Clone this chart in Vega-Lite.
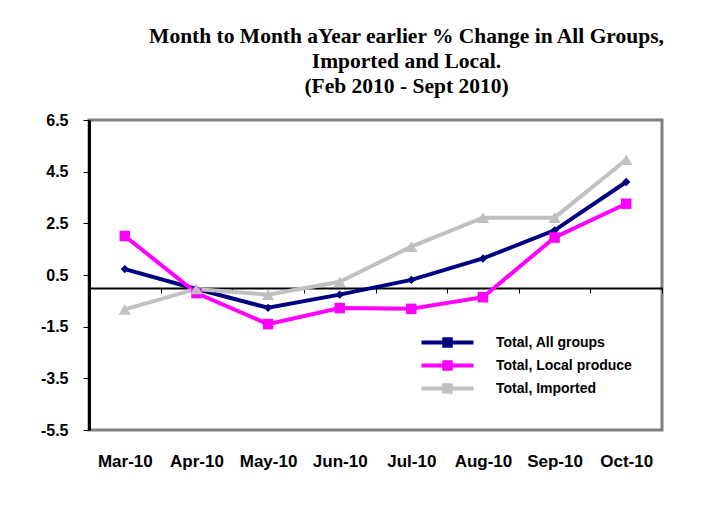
{
  "$schema": "https://vega.github.io/schema/vega-lite/v6.json",
  "width": 573,
  "height": 310,
  "autosize": "none",
  "padding": {"left": 89, "top": 120, "right": 42, "bottom": 84},
  "background": "white",
  "title": {
    "text": ["Month to Month aYear earlier % Change in All Groups,", "Imported and Local.", "(Feb 2010 - Sept 2010)"],
    "anchor": "middle",
    "dx": 31,
    "font": "Liberation Serif",
    "fontSize": 21.5,
    "fontWeight": "bold",
    "lineHeight": 25,
    "color": "black",
    "offset": 15
  },
  "config": {
    "view": {"stroke": "#808080", "strokeWidth": 3},
    "axis": {"labelFont": "Arial", "labelFontWeight": "bold", "labelColor": "black", "grid": false, "title": null}
  },
  "resolve": {"legend": {"color": "independent", "shape": "independent", "size": "independent"}},
  "data": {
    "values": [
      {"series": "Total, All groups", "month": "Mar-10", "value": 0.73},
      {"series": "Total, All groups", "month": "Apr-10", "value": -0.04},
      {"series": "Total, All groups", "month": "May-10", "value": -0.77},
      {"series": "Total, All groups", "month": "Jun-10", "value": -0.26},
      {"series": "Total, All groups", "month": "Jul-10", "value": 0.31},
      {"series": "Total, All groups", "month": "Aug-10", "value": 1.14},
      {"series": "Total, All groups", "month": "Sep-10", "value": 2.23},
      {"series": "Total, All groups", "month": "Oct-10", "value": 4.1},
      {"series": "Total, Local produce", "month": "Mar-10", "value": 2.01},
      {"series": "Total, Local produce", "month": "Apr-10", "value": -0.2},
      {"series": "Total, Local produce", "month": "May-10", "value": -1.4},
      {"series": "Total, Local produce", "month": "Jun-10", "value": -0.78},
      {"series": "Total, Local produce", "month": "Jul-10", "value": -0.81},
      {"series": "Total, Local produce", "month": "Aug-10", "value": -0.36},
      {"series": "Total, Local produce", "month": "Sep-10", "value": 1.95},
      {"series": "Total, Local produce", "month": "Oct-10", "value": 3.26},
      {"series": "Total, Imported", "month": "Mar-10", "value": -0.83},
      {"series": "Total, Imported", "month": "Apr-10", "value": -0.04},
      {"series": "Total, Imported", "month": "May-10", "value": -0.26},
      {"series": "Total, Imported", "month": "Jun-10", "value": 0.24},
      {"series": "Total, Imported", "month": "Jul-10", "value": 1.6},
      {"series": "Total, Imported", "month": "Aug-10", "value": 2.72},
      {"series": "Total, Imported", "month": "Sep-10", "value": 2.72},
      {"series": "Total, Imported", "month": "Oct-10", "value": 4.96}
    ]
  },
  "encoding": {
    "x": {
      "field": "month", "type": "ordinal",
      "sort": ["Mar-10", "Apr-10", "May-10", "Jun-10", "Jul-10", "Aug-10", "Sep-10", "Oct-10"],
      "scale": {"paddingInner": 0, "paddingOuter": 0},
      "axis": {"offset": -142, "domainColor": "black", "domainWidth": 2, "tickColor": "black", "tickSize": 5, "tickBand": "extent", "labelPadding": 160, "labelAngle": 0, "labelFontSize": 17}
    },
    "y": {
      "field": "value", "type": "quantitative",
      "scale": {"domain": [-5.5, 6.5], "nice": false, "zero": false},
      "axis": {"values": [-5.5, -3.5, -1.5, 0.5, 2.5, 4.5, 6.5], "format": ".1f", "labelExpr": "replace(datum.label, '\u2212', '-')", "domainColor": "black", "domainWidth": 3, "tickColor": "black", "tickSize": 6, "labelPadding": 15, "labelFontSize": 16}
    }
  },
  "layer": [
    {
      "mark": {"type": "line", "strokeWidth": 4},
      "encoding": {
        "color": {
          "field": "series", "type": "nominal",
          "scale": {"domain": ["Total, All groups", "Total, Local produce", "Total, Imported"], "range": ["#000080", "#FF00FF", "#C0C0C0"]},
          "legend": {
            "orient": "none", "legendX": 350, "legendY": 214, "title": null,
            "symbolType": "M-4,0L4,0M-0.5,-0.5L0.5,-0.5L0.5,0.5L-0.5,0.5Z",
            "symbolStrokeWidth": 4, "symbolSize": 169,
            "labelFont": "Arial", "labelFontSize": 14, "labelFontWeight": "bold", "labelColor": "black",
            "labelOffset": 40, "rowPadding": 0
          }
        }
      }
    },
    {
      "mark": {"type": "point", "filled": true, "opacity": 1},
      "encoding": {
        "color": {"field": "series", "type": "nominal", "legend": null},
        "shape": {"field": "series", "type": "nominal", "scale": {"domain": ["Total, All groups", "Total, Local produce", "Total, Imported"], "range": ["diamond", "square", "triangle-up"]}, "legend": null},
        "size": {"field": "series", "type": "nominal", "scale": {"domain": ["Total, All groups", "Total, Local produce", "Total, Imported"], "range": [70, 150, 130]}, "legend": null}
      }
    }
  ]
}
